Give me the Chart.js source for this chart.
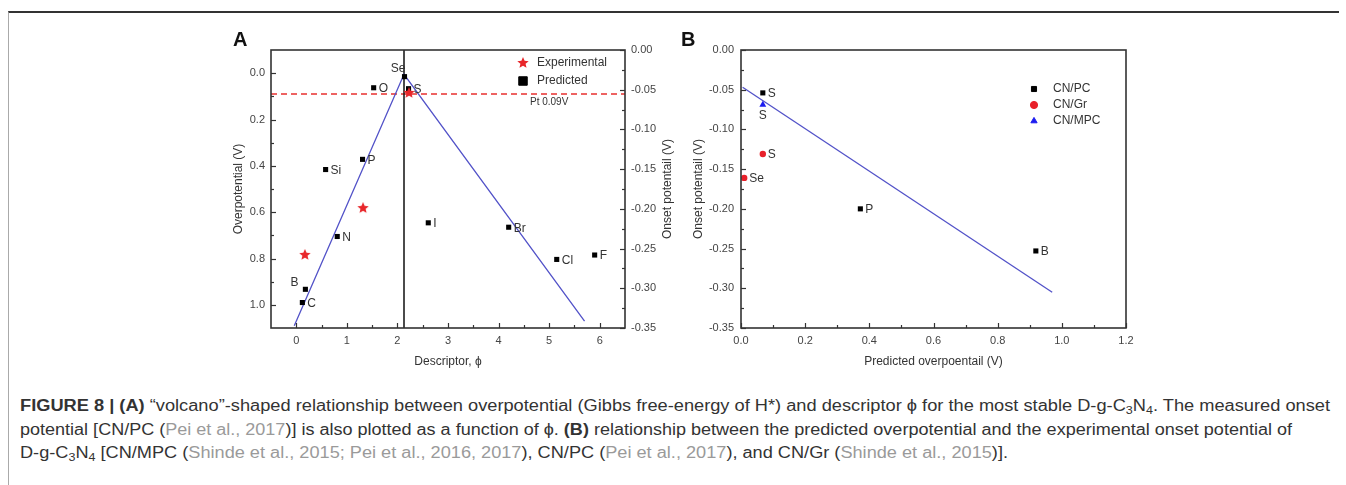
<!DOCTYPE html>
<html>
<head>
<meta charset="utf-8">
<script src="https://cdn.jsdelivr.net/npm/chart.js@4.4.1/dist/chart.umd.min.js"></script>
<style>
  body { margin: 0; background: #fff; width: 1346px; height: 485px; overflow: hidden; position: relative;
         font-family: "Liberation Sans", Arial, sans-serif; }
  #frame { position: absolute; left: 8px; top: 11px; width: 1330px; height: 480px;
           border-top: 2px solid #333; border-left: 1px solid #aaa; }
  canvas { position: absolute; top: 0; }
  #chartA { left: 200px; }
  #chartB { left: 680px; }
  .panel { position: absolute; top: 29px; font-size: 20px; line-height: 20px; font-weight: bold; color: #111; }
  .cap { position: absolute; left: 20px; font-size: 16px; line-height: 20px; white-space: nowrap;
         transform-origin: 0 0; color: #333; }
  .cap sub { font-size: 11px; line-height: 0; vertical-align: -3px; }
  .ref { color: #9a9a9a; }
</style>
</head>
<body>
<div id="frame"></div>
<canvas id="chartA" width="500" height="380"></canvas>
<canvas id="chartB" width="500" height="380"></canvas>
<div class="panel" style="left:233px">A</div>
<div class="panel" style="left:681px">B</div>

<div class="cap" id="cap1" style="top:396px"><b>FIGURE 8 | (A)</b> “volcano”-shaped relationship between overpotential (Gibbs free-energy of H*) and descriptor ϕ for the most stable D-g-C<sub>3</sub>N<sub>4</sub>. The measured onset</div>
<div class="cap" id="cap2" style="top:420px">potential [CN/PC (<span class="ref">Pei et al., 2017</span>)] is also plotted as a function of ϕ. <b>(B)</b> relationship between the predicted overpotential and the experimental onset potential of</div>
<div class="cap" id="cap3" style="top:443px">D-g-C<sub>3</sub>N<sub>4</sub> [CN/MPC (<span class="ref">Shinde et al., 2015; Pei et al., 2016, 2017</span>), CN/PC (<span class="ref">Pei et al., 2017</span>), and CN/Gr (<span class="ref">Shinde et al., 2015</span>)].</div>

<script>
// ---- panel A data ----
const elements = ['Se', 'S', 'O', 'P', 'Si', 'N', 'B', 'C', 'I', 'Br', 'Cl', 'F'];
const elemPhi  = [2.14, 2.22, 1.53, 1.31, 0.58, 0.81, 0.18, 0.12, 2.61, 4.20, 5.15, 5.90];
const elemEta  = [0.015, 0.067, 0.063, 0.372, 0.416, 0.705, 0.933, 0.990, 0.646, 0.665, 0.804, 0.785];

const expPhi   = [0.17, 1.32, 2.23];
const expOnset = [-0.258, -0.199, -0.054];

const fitPhi = [-0.04, 2.13, 5.70];
const fitEta = [1.09, 0.005, 1.07];

const apexPhi = 2.13;
const ptEta = 0.09;

const descriptorRange = [-0.5, 6.5];
const overRange = [-0.1, 1.1];
const onsetRange = [-0.35, 0];
const descriptorTicks = [0, 1, 2, 3, 4, 5, 6];
const overTicks = [0.0, 0.2, 0.4, 0.6, 0.8, 1.0];
const onsetTicks = [0.00, -0.05, -0.10, -0.15, -0.20, -0.25, -0.30, -0.35];

// ---- panel B data ----
const pcX = [0.068, 0.372, 0.919];
const pcY = [-0.054, -0.200, -0.253];
const pcNames = ['S', 'P', 'B'];
const grX = [0.068, 0.010];
const grY = [-0.131, -0.161];
const grNames = ['S', 'Se'];
const mpcX = [0.068];
const mpcY = [-0.069];
const mpcNames = ['S'];
const fitBX = [0.005, 0.97];
const fitBY = [-0.047, -0.305];
const predRange = [0, 1.2];
const predTicks = [0.0, 0.2, 0.4, 0.6, 0.8, 1.0, 1.2];

const FONT = '"Liberation Sans", Arial, sans-serif';
Chart.defaults.font.family = FONT;
Chart.defaults.color = '#444';

function pts(xs, ys) { return xs.map((x, i) => ({ x: x, y: ys[i] })); }

function makeStar(size, color) {
  const c = document.createElement('canvas');
  c.width = size; c.height = size;
  const g = c.getContext('2d');
  const R = size / 2, r = R * 0.45;
  g.beginPath();
  for (let i = 0; i < 10; i++) {
    const a = -Math.PI / 2 + i * Math.PI / 5;
    const rad = i % 2 ? r : R;
    g.lineTo(R + rad * Math.cos(a), R + rad * Math.sin(a));
  }
  g.closePath();
  g.fillStyle = color;
  g.fill();
  return c;
}
const star = makeStar(12, '#e8262a');

// box round the plot + inward major/minor ticks
const frameTicks = {
  id: 'frameTicks',
  afterDraw(chart) {
    const ctx = chart.ctx, a = chart.chartArea;
    ctx.save();
    ctx.strokeStyle = '#333';
    ctx.lineWidth = 1.6;
    ctx.strokeRect(a.left, a.top, a.right - a.left, a.bottom - a.top);
    ctx.lineWidth = 1.2;
    Object.values(chart.scales).forEach(s => {
      const vals = s.ticks.map(t => t.value);
      const minors = [];
      for (let i = 0; i < vals.length - 1; i++) minors.push((vals[i] + vals[i + 1]) / 2);
      const mark = (v, len) => {
        const p = Math.round(s.getPixelForValue(v)) + 0.5;
        ctx.beginPath();
        if (s.position === 'bottom') { ctx.moveTo(p, a.bottom); ctx.lineTo(p, a.bottom - len); }
        else if (s.position === 'left') { ctx.moveTo(a.left, p); ctx.lineTo(a.left + len, p); }
        else { ctx.moveTo(a.right, p); ctx.lineTo(a.right - len, p); }
        ctx.stroke();
      };
      vals.forEach(v => mark(v, 5));
      minors.forEach(v => mark(v, 3));
    });
    ctx.restore();
  }
};

const pointLabels = {
  id: 'pointLabels',
  afterDatasetsDraw(chart) {
    const ctx = chart.ctx;
    ctx.save();
    ctx.font = '12px ' + FONT;
    ctx.fillStyle = '#333';
    ctx.textBaseline = 'middle';
    chart.data.datasets.forEach((ds, i) => {
      if (!ds.names) return;
      chart.getDatasetMeta(i).data.forEach((pt, j) => {
        const name = ds.names[j];
        const place = (ds.namePlace && ds.namePlace[name]) || 'right';
        let x = pt.x, y = pt.y;
        if (place === 'right') { ctx.textAlign = 'left'; x += 5; y += 1; }
        else if (place === 'upleft') { ctx.textAlign = 'right'; x += 1; y -= 8; }
        else if (place === 'left') { ctx.textAlign = 'right'; x -= 7; y -= 7; }
        else if (place === 'below') { ctx.textAlign = 'center'; y += 11; }
        ctx.fillText(name, x, y);
      });
    });
    ctx.restore();
  }
};

const insideLegend = {
  id: 'insideLegend',
  afterDraw(chart, args, opts) {
    if (!opts.dx) return;
    const a = chart.chartArea, ctx = chart.ctx;
    ctx.save();
    ctx.font = '12px ' + FONT;
    ctx.textBaseline = 'middle';
    ctx.textAlign = 'left';
    let y = a.top + opts.dy;
    chart.data.datasets.forEach(ds => {
      if (!ds.legendText) return;
      const x = a.right - opts.dx;
      ctx.fillStyle = ds.backgroundColor;
      ctx.strokeStyle = ds.borderColor;
      Chart.helpers.drawPoint(ctx, { pointStyle: ds.pointStyle, radius: opts.radius, rotation: 0, borderWidth: 1 }, x, y);
      ctx.fillStyle = '#333';
      ctx.fillText(ds.legendText, x + opts.gap, y);
      y += opts.step;
    });
    ctx.restore();
  }
};

// right-hand title of panel A (reads bottom to top like the left one) and the Pt note
const extrasA = {
  id: 'extrasA',
  afterDraw(chart) {
    const ctx = chart.ctx, a = chart.chartArea;
    ctx.save();
    ctx.fillStyle = '#333';
    ctx.font = '12px ' + FONT;
    ctx.textAlign = 'center';
    ctx.textBaseline = 'middle';
    ctx.translate(468, (a.top + a.bottom) / 2);
    ctx.rotate(-Math.PI / 2);
    ctx.fillText('Onset potentail (V)', 0, 0);
    ctx.restore();

    ctx.save();
    ctx.fillStyle = '#333';
    ctx.font = '10px ' + FONT;
    ctx.textAlign = 'center';
    ctx.textBaseline = 'top';
    ctx.fillText('Pt 0.09V', chart.scales.x.getPixelForValue(5.0), chart.scales.y.getPixelForValue(ptEta) + 3);
    ctx.restore();
  }
};

const tickFont = { size: 11 };
const titleFont = { size: 12 };
const noGrid = { display: false, drawTicks: false };

new Chart(document.getElementById('chartA'), {
  type: 'scatter',
  data: {
    datasets: [{
      label: 'Experimental',
      legendText: 'Experimental',
      data: pts(expPhi, expOnset),
      yAxisID: 'y2',
      pointStyle: star,
      backgroundColor: '#e8262a',
      borderColor: '#e8262a'
    }, {
      label: 'Predicted',
      legendText: 'Predicted',
      names: elements,
      namePlace: { Se: 'upleft', B: 'left' },
      data: pts(elemPhi, elemEta),
      yAxisID: 'y',
      pointStyle: 'rect',
      pointRadius: 3.6,
      borderWidth: 0,
      backgroundColor: '#000',
      borderColor: '#000'
    }, {
      label: 'Volcano',
      data: pts(fitPhi, fitEta),
      yAxisID: 'y',
      showLine: true,
      pointRadius: 0,
      borderColor: '#5252c8',
      borderWidth: 1.3
    }, {
      label: 'Apex',
      data: pts([apexPhi, apexPhi], overRange),
      yAxisID: 'y',
      showLine: true,
      pointRadius: 0,
      borderColor: '#111',
      borderWidth: 1.5
    }, {
      label: 'Pt',
      data: pts(descriptorRange, [ptEta, ptEta]),
      yAxisID: 'y',
      showLine: true,
      pointRadius: 0,
      borderColor: '#e8312f',
      borderWidth: 1.4,
      borderDash: [6, 4]
    }]
  },
  options: {
    responsive: false,
    animation: false,
    layout: { padding: { top: 50, left: 0, right: 0, bottom: 0 } },
    plugins: {
      legend: { display: false },
      tooltip: { enabled: false },
      insideLegend: { dx: 102, dy: 13, step: 18, gap: 14, radius: 6 }
    },
    scales: {
      x: {
        type: 'linear', position: 'bottom',
        min: descriptorRange[0], max: descriptorRange[1],
        afterBuildTicks: s => { s.ticks = descriptorTicks.map(v => ({ value: v })); },
        afterFit: s => { s.height = 52; },
        ticks: { font: tickFont, color: '#444', padding: 6, autoSkip: false, maxRotation: 0, callback: v => String(v) },
        grid: noGrid, border: { display: false },
        title: { display: true, text: 'Descriptor, ϕ', font: titleFont, color: '#333', padding: { bottom: 11 } }
      },
      y: {
        type: 'linear', position: 'left', reverse: true,
        min: overRange[0], max: overRange[1],
        afterBuildTicks: s => { s.ticks = overTicks.map(v => ({ value: v })); },
        afterFit: s => { s.width = 71; },
        ticks: { font: tickFont, color: '#444', padding: 6, autoSkip: false, callback: v => v.toFixed(1) },
        grid: noGrid, border: { display: false },
        title: { display: true, text: 'Overpotential (V)', font: titleFont, color: '#333', padding: { top: 31 } }
      },
      y2: {
        type: 'linear', position: 'right',
        min: onsetRange[0], max: onsetRange[1],
        afterBuildTicks: s => { s.ticks = onsetTicks.map(v => ({ value: v })); },
        afterFit: s => { s.width = 75; },
        ticks: { font: tickFont, color: '#444', padding: 6, autoSkip: false, callback: v => v.toFixed(2) },
        grid: noGrid, border: { display: false }
      }
    }
  },
  plugins: [frameTicks, pointLabels, insideLegend, extrasA]
});

new Chart(document.getElementById('chartB'), {
  type: 'scatter',
  data: {
    datasets: [{
      label: 'CN/PC',
      legendText: 'CN/PC',
      names: pcNames,
      data: pts(pcX, pcY),
      pointStyle: 'rect',
      pointRadius: 3.6,
      borderWidth: 0,
      backgroundColor: '#000',
      borderColor: '#000'
    }, {
      label: 'CN/Gr',
      legendText: 'CN/Gr',
      names: grNames,
      data: pts(grX, grY),
      pointStyle: 'circle',
      pointRadius: 3.2,
      borderWidth: 0,
      backgroundColor: '#e8202a',
      borderColor: '#e8202a'
    }, {
      label: 'CN/MPC',
      legendText: 'CN/MPC',
      names: mpcNames,
      namePlace: { S: 'below' },
      data: pts(mpcX, mpcY),
      pointStyle: 'triangle',
      pointRadius: 4,
      borderWidth: 0,
      backgroundColor: '#1c1cf0',
      borderColor: '#1c1cf0'
    }, {
      label: 'Fit',
      data: pts(fitBX, fitBY),
      showLine: true,
      pointRadius: 0,
      borderColor: '#5252c8',
      borderWidth: 1.3
    }]
  },
  options: {
    responsive: false,
    animation: false,
    layout: { padding: { top: 50, left: 0, right: 54, bottom: 0 } },
    plugins: {
      legend: { display: false },
      tooltip: { enabled: false },
      insideLegend: { dx: 92, dy: 39, step: 16, gap: 19, radius: 3.6 }
    },
    scales: {
      x: {
        type: 'linear', position: 'bottom',
        min: predRange[0], max: predRange[1],
        afterBuildTicks: s => { s.ticks = predTicks.map(v => ({ value: v })); },
        afterFit: s => { s.height = 52; },
        ticks: { font: tickFont, color: '#444', padding: 6, autoSkip: false, maxRotation: 0, callback: v => v.toFixed(1) },
        grid: noGrid, border: { display: false },
        title: { display: true, text: 'Predicted overpoentail (V)', font: titleFont, color: '#333', padding: { bottom: 11 } }
      },
      y: {
        type: 'linear', position: 'left',
        min: onsetRange[0], max: onsetRange[1],
        afterBuildTicks: s => { s.ticks = onsetTicks.map(v => ({ value: v })); },
        afterFit: s => { s.width = 61; },
        ticks: { font: tickFont, color: '#444', padding: 7, autoSkip: false, callback: v => v.toFixed(2) },
        grid: noGrid, border: { display: false },
        title: { display: true, text: 'Onset potentail (V)', font: titleFont, color: '#333', padding: { top: 11 } }
      }
    }
  },
  plugins: [frameTicks, pointLabels, insideLegend]
});

// stretch the caption lines to the widths they have in the figure
const capWidths = { cap1: 1310, cap2: 1272, cap3: 988 };
function fitCaption() {
  Object.keys(capWidths).forEach(id => {
    const el = document.getElementById(id);
    el.style.transform = 'none';
    const w = el.getBoundingClientRect().width;
    el.style.transform = 'scaleX(' + (capWidths[id] / w) + ')';
  });
}
fitCaption();
if (document.fonts) document.fonts.ready.then(fitCaption);
</script>
</body>
</html>
